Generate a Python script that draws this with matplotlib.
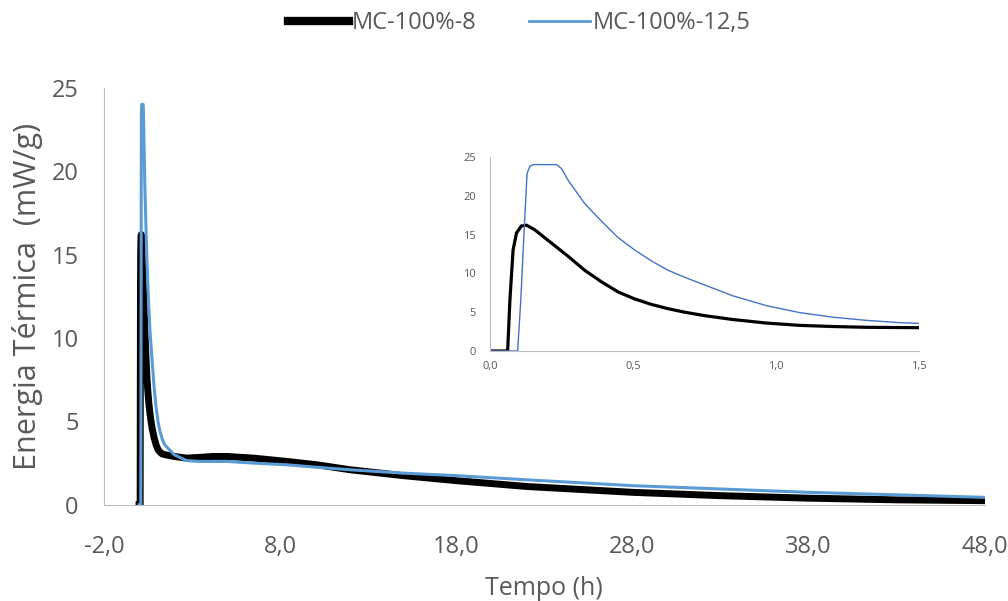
import matplotlib
matplotlib.use('Agg')
from matplotlib import pyplot as plt
from matplotlib.ticker import FuncFormatter, MultipleLocator

plt.rcParams['font.family'] = ['Open Sans', 'DejaVu Sans']

# MC-100%-8 (black)
t_8 = [0.0, 0.062, 0.070, 0.081, 0.093, 0.11, 0.128, 0.157, 0.215, 0.273, 0.331, 0.39,
       0.448, 0.506, 0.564, 0.622, 0.68, 0.75, 0.849, 0.965, 1.081, 1.198, 1.314, 1.5,
       2.0, 2.7, 3.5, 4.2, 5.0, 6.5, 8.4, 10.1, 12.0, 15.0, 18.0, 22.0, 28.0, 33.0,
       38.0, 43.0, 48.0]
e_8 = [0.0, 0.0, 6.6, 13.0, 15.2, 16.1, 16.2, 15.6, 13.9, 12.2, 10.4, 8.9,
       7.6, 6.7, 6.0, 5.45, 5.0, 4.55, 4.05, 3.6, 3.3, 3.15, 3.05, 3.0,
       2.9, 2.8, 2.85, 2.9, 2.9, 2.8, 2.6, 2.4, 2.1, 1.75, 1.45, 1.1, 0.75, 0.55,
       0.4, 0.3, 0.25]

# MC-100%-12,5 (blue)
t_12 = [0.0, 0.097, 0.108, 0.122, 0.130, 0.140, 0.151, 0.233, 0.25, 0.273, 0.331, 0.39,
        0.448, 0.506, 0.564, 0.622, 0.68, 0.75, 0.849, 0.965, 1.081, 1.198, 1.314, 1.43,
        1.5, 2.0, 2.7, 3.5, 5.0, 6.5, 8.4, 10.1, 12.0, 15.0, 18.0, 22.0, 28.0, 33.0,
        38.0, 43.0, 48.0]
e_12 = [0.0, 0.0, 6.6, 17.3, 22.9, 23.8, 24.0, 24.0, 23.5, 22.0, 19.0, 16.7,
        14.6, 13.0, 11.6, 10.4, 9.5, 8.5, 7.1, 5.85, 4.95, 4.35, 3.95, 3.65,
        3.55, 3.0, 2.65, 2.6, 2.6, 2.5, 2.4, 2.25, 2.1, 1.9, 1.75, 1.5, 1.15, 0.95,
        0.75, 0.6, 0.45]

x_ticks = [-2, 8, 18, 28, 38, 48]
inset_ticks = [0.0, 0.5, 1.0, 1.5]

GRAY = '#595959'
SPINE = '#BFBFBF'
BLACK = '#000000'
BLUE_MAIN = '#5B9BD5'
BLUE_INSET = '#4472C4'

comma1 = FuncFormatter(lambda v, p: f'{v:.1f}'.replace('.', ','))
int_fmt = FuncFormatter(lambda v, p: f'{v:.0f}')


def style(ax, size):
    for s in ['top', 'right']:
        ax.spines[s].set_visible(False)
    ax.spines['left'].set_color(SPINE)
    ax.spines['bottom'].set_color(SPINE)
    ax.tick_params(length=0, labelsize=size, colors=GRAY)
    ax.set_facecolor('none')


fig = plt.figure(figsize=(10.08, 6.01), dpi=100)
ax = fig.add_axes([0.103, 0.160, 0.874, 0.694])
l8, = ax.plot(t_8, e_8, color=BLACK, lw=5, solid_joinstyle='round')
l12, = ax.plot(t_12, e_12, color=BLUE_MAIN, lw=2.2)
ax.set_xlim(-2, 48)
ax.set_ylim(0, 25)
ax.set_xticks(x_ticks)
ax.xaxis.set_major_formatter(comma1)
ax.yaxis.set_major_locator(MultipleLocator(5))
ax.yaxis.set_major_formatter(int_fmt)
style(ax, 17)
ax.tick_params(axis='x', pad=22)
ax.tick_params(axis='y', pad=18)
ax.set_xlabel('Tempo (h)', fontsize=18, color=GRAY, labelpad=12)
ax.set_ylabel('Energia Térmica  (mW/g)', fontsize=22, color=GRAY, labelpad=6)

leg = fig.legend([l8, l12], ['MC-100%-8', 'MC-100%-12,5'], loc='center',
                 bbox_to_anchor=(0.515, 0.962), ncol=2, frameon=False,
                 fontsize=17, handlelength=2.6, columnspacing=2.2, handletextpad=0.1)
for txt in leg.get_texts():
    txt.set_color(GRAY)
leg.get_lines()[0].set_linewidth(6)
leg.get_lines()[1].set_linewidth(2)

# zoomed inset of the first 1.5 h
ins = fig.add_axes([0.486, 0.416, 0.426, 0.323])
ins.plot(t_8, e_8, color=BLACK, lw=2.3)
ins.plot(t_12, e_12, color=BLUE_INSET, lw=1.0)
ins.set_xlim(0, 1.5)
ins.set_ylim(0, 25)
ins.set_xticks(inset_ticks)
ins.xaxis.set_major_formatter(comma1)
ins.yaxis.set_major_locator(MultipleLocator(5))
ins.yaxis.set_major_formatter(int_fmt)
style(ins, 8)
ins.tick_params(axis='x', pad=7)
ins.tick_params(axis='y', pad=10)

fig.savefig('out.png', dpi=100)
